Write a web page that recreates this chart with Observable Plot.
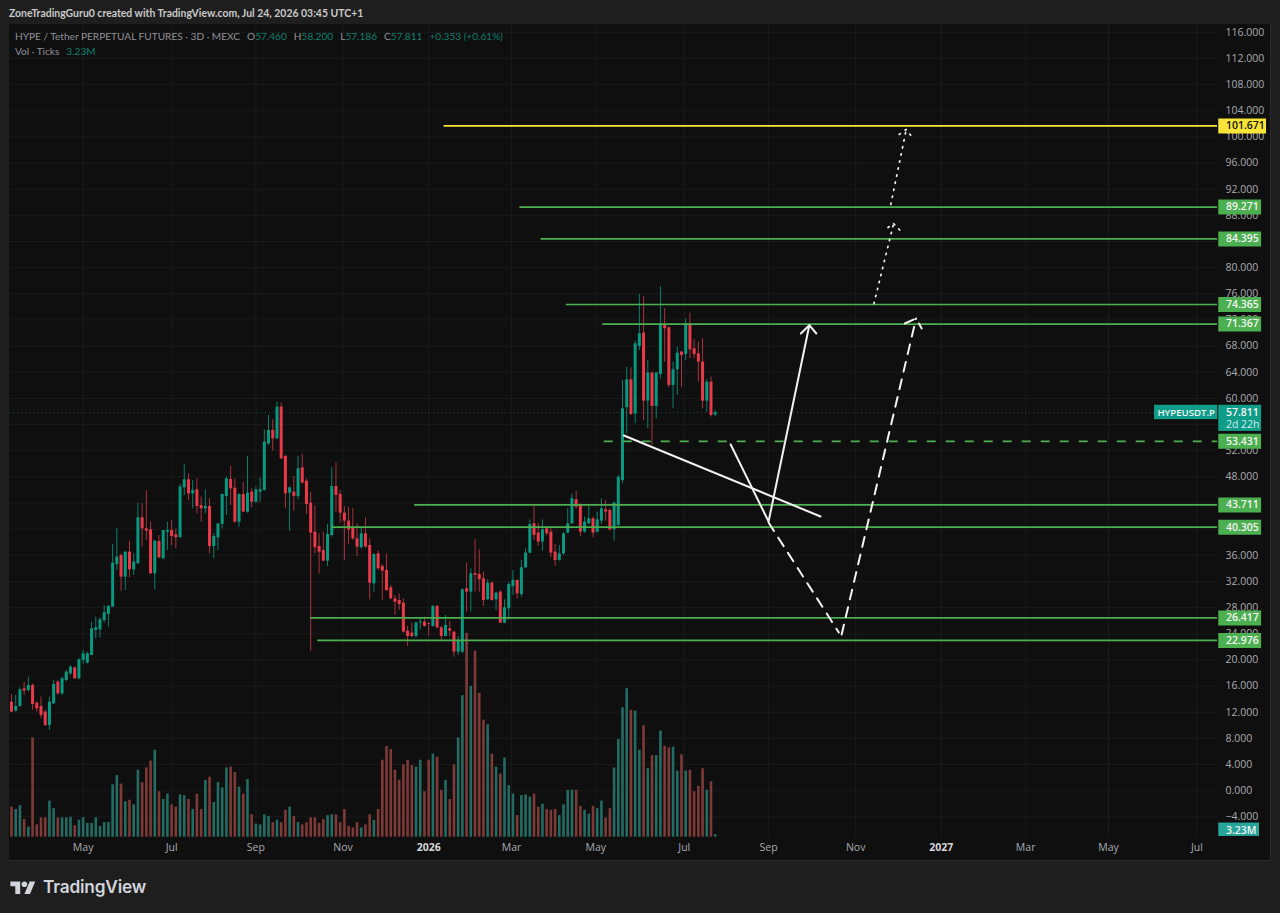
<!DOCTYPE html>
<html><head><meta charset="utf-8">
<script src="https://cdn.jsdelivr.net/npm/d3@7"></script>
<script src="https://cdn.jsdelivr.net/npm/@observablehq/plot@0.6"></script>
<style>
html,body{margin:0;padding:0;background:#1e1e1e;width:1280px;height:913px;overflow:hidden;font-family:Lato,"Open Sans",sans-serif}
#panel{position:absolute;left:9px;top:24px;width:1261px;height:836px;background:#0f0f0f;border-right:1px solid #2a2a2a;border-bottom:1px solid #2a2a2a}
#chart{position:absolute;left:0;top:0}
.t{position:absolute;white-space:pre;font-size:10.1px;line-height:14px}
#credit{left:9px;top:6px;color:#c9c9c9;font-weight:700;font-size:10.45px}
#legend1{left:15px;top:29px;color:#8f9299}
#legend2{left:15px;top:44px;color:#8f9299}
.g{color:#0f7f6d}
.v{margin-left:7px}
#logo{position:absolute;left:10px;top:876px;display:flex;align-items:center;gap:7px;color:#d1d4dc;font:600 17.3px "Inter","Open Sans",sans-serif;letter-spacing:-.2px}
</style></head><body>
<div id="panel"></div>
<div id="chart"></div>
<div class="t" id="credit">ZoneTradingGuru0 created with TradingView.com, Jul 24, 2026 03:45 UTC+1</div>
<div class="t" id="legend1">HYPE / Tether PERPETUAL FUTURES · 3D · MEXC<span class="v">O<span class="g">57.460</span></span><span class="v">H<span class="g">58.200</span></span><span class="v">L<span class="g">57.186</span></span><span class="v">C<span class="g">57.811</span></span><span class="v g">+0.353 (+0.61%)</span></div>
<div class="t" id="legend2">Vol · Ticks<span class="v g">3.23M</span></div>
<div id="logo"><svg width="26" height="14" viewBox="0 0 36 20"><path fill="#d1d4dc" d="M14 20H7V9H0V2h14v18ZM28 20h-8l7.5-18h8L28 20Z"/><circle cx="20" cy="6" r="4" fill="#d1d4dc"/></svg><span>TradingView</span></div>
<script>
const firstBar = "2025-03-10";
const opens = [13.54,12.17,12.88,15.58,15.33,16.09,13.39,12.88,12.01,9.98,
13.29,16.60,14.82,16.86,17.88,18.80,17.11,19.92,19.51,20.68,
24.50,24.61,26.03,26.95,28.07,34.60,35.98,32.66,36.49,33.78,
34.70,41.74,40.05,39.90,33.17,38.12,35.47,39.54,39.80,39.14,
38.68,46.32,47.55,45.41,46.02,43.62,43.11,43.47,37.35,38.68,
40.72,45.00,47.60,46.27,41.07,45.30,42.60,45.66,44.13,45.66,
45.92,53.05,55.09,53.82,58.66,51.12,45.51,45.66,45.00,49.38,
47.34,43.98,39.54,37.35,36.74,35.11,39.03,46.53,45.30,42.45,
41.23,40.21,38.52,37.15,39.29,37.50,31.64,36.23,34.29,33.68,
31.03,29.35,29.09,28.69,24.40,24.10,23.59,25.63,25.78,25.52,
25.12,28.17,24.91,23.59,24.76,24.25,21.19,21.19,30.88,30.37,
33.18,33.07,32.41,29.20,31.75,29.20,30.37,25.63,27.82,31.24,
32.16,30.01,34.09,36.34,40.82,39.40,38.02,40.06,39.55,36.49,
35.21,36.23,39.40,40.82,44.49,43.78,39.55,40.82,41.59,39.55,
41.23,42.96,42.86,39.90,40.57,47.45,58.57,62.85,57.65,67.95,
69.99,59.59,63.87,58.77,63.66,71.16,70.80,61.98,64.38,67.08,
66.72,71.41,67.59,66.82,65.55,59.59,62.49,57.46];
const highs = [14.72,14.56,15.74,16.60,17.37,16.35,13.54,14.31,12.27,14.31,
16.86,16.86,17.37,18.39,19.15,18.90,20.17,21.45,21.19,25.78,
26.54,26.44,28.33,28.33,37.66,40.05,36.23,36.49,38.17,36.23,
43.98,43.88,45.92,41.07,38.27,39.03,39.80,41.07,41.33,40.05,
46.83,49.89,48.47,47.45,47.70,44.90,46.02,44.64,39.29,40.82,
45.41,47.96,49.59,47.70,45.41,47.19,51.12,46.17,46.43,47.85,
55.19,57.39,56.72,59.43,59.27,51.27,46.43,48.06,51.12,51.42,
47.70,45.66,43.62,39.29,39.54,40.72,49.38,50.10,45.92,43.47,
43.37,43.11,40.82,40.21,41.74,38.52,36.23,36.64,34.60,36.23,
31.39,29.86,30.11,29.35,25.12,25.63,25.78,26.44,26.54,25.78,
28.33,28.33,25.12,26.80,25.93,24.40,23.59,30.88,34.81,33.94,
38.38,36.85,33.43,32.26,31.90,30.37,30.63,29.20,31.90,33.69,
32.26,35.21,36.99,41.43,43.63,40.82,41.43,40.31,40.06,37.66,
37.51,39.55,43.12,45.41,45.77,43.88,41.84,43.63,41.84,42.61,
44.65,44.39,43.12,44.14,48.20,62.75,64.79,64.68,68.76,75.90,
75.59,65.80,64.02,64.02,77.12,73.71,70.90,65.55,67.84,67.23,
72.18,73.04,68.97,68.61,69.12,62.85,63.26,58.20];
const lows = [12.01,12.01,12.78,14.56,15.07,12.27,12.01,10.99,9.82,9.21,
13.19,14.56,14.56,16.60,17.62,17.01,16.96,19.31,19.41,20.68,
23.23,23.38,25.63,25.01,28.07,33.68,30.52,30.62,32.56,32.92,
34.70,37.25,38.27,33.07,30.72,35.47,35.31,36.74,37.50,36.99,
38.68,45.15,44.39,43.11,42.35,41.07,42.35,36.23,35.47,36.74,
40.05,42.09,43.62,40.92,40.31,42.60,42.45,43.26,43.98,44.13,
45.81,52.80,51.93,53.66,50.61,43.11,39.70,42.76,44.49,46.94,
42.25,21.34,36.23,33.17,34.96,34.29,38.78,42.60,40.92,35.21,
37.66,38.27,35.82,36.99,37.15,29.19,30.37,33.68,29.09,30.52,
29.19,26.80,27.56,24.10,22.06,23.38,23.38,24.61,25.01,23.59,
25.01,24.76,23.08,23.48,23.59,20.43,20.68,20.94,27.31,27.31,
30.37,30.37,28.18,29.10,29.00,27.57,25.53,25.53,26.04,29.86,
29.35,29.61,33.94,36.23,38.27,37.36,36.64,39.04,35.62,34.30,
35.11,35.98,39.29,40.72,43.12,38.89,39.40,40.72,38.68,39.40,
40.72,41.23,39.70,38.17,40.40,46.94,54.59,57.39,56.12,67.33,
56.63,55.35,52.80,56.88,63.00,65.55,61.62,58.41,60.45,61.62,
65.80,66.06,66.06,62.49,58.41,57.90,57.14,57.186];
const closes = [12.01,12.88,15.43,15.23,16.09,13.19,12.52,11.50,9.98,13.54,
16.25,14.82,17.11,18.13,18.90,17.11,20.02,20.94,20.94,24.76,
24.91,26.14,27.21,28.18,34.80,35.72,32.66,36.49,33.78,34.96,
41.74,40.05,39.70,33.17,38.17,35.62,39.80,39.80,38.88,38.68,
46.43,47.55,45.41,45.92,43.47,43.11,43.47,37.35,38.88,40.82,
45.30,47.70,46.17,41.07,45.30,42.60,45.51,44.13,46.02,46.02,
53.31,55.09,53.82,58.66,50.76,45.41,46.32,45.00,49.23,47.04,
43.77,39.39,37.15,36.48,35.11,39.19,46.53,45.15,42.45,41.23,
39.90,38.52,37.25,39.29,37.25,31.74,36.13,33.94,33.58,30.62,
29.35,28.84,28.48,24.25,23.59,23.59,25.63,25.78,25.12,25.42,
28.17,24.91,23.59,25.27,24.40,21.19,22.97,30.72,30.37,33.18,
32.92,32.26,29.10,31.75,29.10,30.22,25.63,27.98,31.54,32.16,
30.12,34.09,36.34,40.72,39.04,38.02,39.90,39.29,36.34,35.21,
36.23,39.29,40.82,44.65,43.37,39.55,41.08,41.59,39.40,41.43,
43.12,42.61,39.90,43.98,47.90,58.41,62.85,57.55,68.35,69.88,
59.59,63.87,58.77,63.87,71.41,70.65,61.98,64.38,66.93,66.57,
71.41,67.44,66.72,65.55,59.59,62.49,57.39,57.811];
const volumesM = [39,36,41,23,13,129,16,25,25,47,
37,25,25,25,26,15,22,25,18,18,
25,14,19,19,68,80,69,46,48,42,
87,71,90,99,113,59,49,56,42,39,
55,54,49,36,56,36,74,78,45,71,
64,90,91,84,65,56,75,29,17,16,
29,27,19,22,19,35,39,27,19,16,
19,25,25,18,23,28,29,29,19,36,
14,12,19,12,16,29,22,36,100,118,
114,87,74,94,100,93,91,100,59,100,
108,104,61,74,49,94,129,184,265,196,
242,187,152,146,108,91,82,103,67,56,
28,54,55,52,56,39,43,36,35,36,
28,42,61,61,61,40,35,30,40,37,
47,25,37,90,127,168,193,165,164,113,
145,89,106,106,138,118,116,117,86,107,
86,87,59,66,89,61,72,3.23];

const gridValues = [116,112,108,104,100,96,92,88,84,80,76,72,68,64,60,56,52,48,44,40,36,32,28,24,20,16,12,8,4,0,-4];
const yTickLabels = [116,112,108,104,100,96,92,88,84,80,76,72,68,64,60,52,48,40,36,32,28,24,20,16,12,8,4,0,-4];
const monthTicks = ["2025-04-30","2025-07-02","2025-08-31","2025-11-01","2026-03-01","2026-04-30","2026-07-02","2026-08-31","2026-11-01","2027-03-02","2027-04-30","2027-07-02"];
const monthNames = ["May","Jul","Sep","Nov","Mar","May","Jul","Sep","Nov","Mar","May","Jul"];
const yearTicks = ["2026-01-01","2027-01-01"];

const levelValues = [101.671,89.271,84.395,74.365,71.367,43.711,40.305,26.417,22.976];
const levelStarts = ["2026-01-12","2026-03-07","2026-03-22","2026-04-09","2026-05-05","2025-12-22","2025-10-24","2025-10-09","2025-10-14"];
const dashedLevel = 53.431, dashedStart = "2026-05-06";
const lastPrice = 57.811;

const trendLine = [["2026-05-20",54.33],["2026-10-07",41.94]];
const firstLeg = [["2026-08-04",52.95],["2026-08-31",41.17],["2026-09-29",71.2]];
const firstHead = [["2026-09-23",69.93],["2026-09-29",71.2],["2026-10-04",69.93]];
const dashedDown = [["2026-08-31",41.02],["2026-10-20",24.2]];
const dashedUp = [["2026-10-22",23.9],["2026-12-14",72.22]];
const dashedHead = [["2026-12-06",71.46],["2026-12-14",72.22],["2026-12-18",70.7]];
const dottedOne = [["2026-11-14",74.5],["2026-11-28",86.75]];
const dottedOneHead = [["2026-11-24",86.14],["2026-11-28",86.75],["2026-12-04",85.38]];
const dottedTwo = [["2026-11-26",89.66],["2026-12-07",101.13]];
const dottedTwoHead = [["2026-12-02",100.37],["2026-12-07",101.13],["2026-12-12",99.76]];

const UP="#089981", DOWN="#e93a49", UPW="#0c7f6e", DOWNW="#a8343f", UPV="#236c63", DOWNV="#7d3a36";
const GREEN="#4caf50", YELLOW="#f9e537", TEAL="#0f9d8a", GRID="#1b1b1b", TXT="#a9abb0";
const d = s => new Date(s+"T00:00:00Z");
const start = d(firstBar);
const bars = opens.map((o,i)=>({date:new Date(+start+i*3*864e5),open:o,high:highs[i],low:lows[i],close:closes[i],vol:volumesM[i],up:closes[i]>=o}));
const domainX=[new Date(+start-1.42*864e5),new Date(+start+858.6*864e5)];
const rightEdge=domainX[1];
const dayAfter=n=>new Date(+start+n*864e5);
const volBase=-7.11, volUnit=0.11766;
const levels=levelValues.map((v,i)=>({v,start:d(levelStarts[i]),color:v>100?YELLOW:GREEN}));
const pts=a=>a.map(([x,y])=>({x:d(x),y}));
const ln=(a,o)=>Plot.line(pts(a),{x:"x",y:"y",stroke:"#f2f2f2",strokeWidth:2,...o});
const dash={strokeDasharray:"10,8"}, dot={strokeDasharray:"1.4,5.8",strokeLinecap:"round",strokeWidth:1.7};
const boxL=dayAfter(859.5), boxR=dayAfter(890), textX=dayAfter(864.6);
const tag=levels.map(l=>({...l,txt:l.v.toFixed(3),right:l.v>100?dayAfter(893.5):boxR}));
tag.push({v:dashedLevel,txt:dashedLevel.toFixed(3),color:GREEN,right:boxR});
const monthIdx=new Map(monthTicks.map((t,i)=>[+d(t),monthNames[i]]));

const chart=Plot.plot({
 width:1280,height:913,marginLeft:9,marginRight:63,marginTop:24,marginBottom:76,
 style:{background:"transparent",fontFamily:'"Open Sans",Lato,sans-serif',fontSize:"10.5px"},
 color:{type:"identity"},
 x:{type:"utc",domain:domainX,label:null},
 y:{type:"linear",domain:[-7.16,117.19],label:null},
 marks:[
  Plot.ruleY(gridValues,{stroke:GRID}),
  Plot.ruleX([...monthTicks,...yearTicks].map(d),{stroke:GRID}),
  Plot.axisY({anchor:"right",ticks:yTickLabels,tickSize:0,tickPadding:8,textAnchor:"start",label:null,fill:TXT,
     tickFormat:v=>v<0?"\u2212"+Math.abs(v).toFixed(3):v.toFixed(3)}),
  Plot.axisX({anchor:"bottom",ticks:monthTicks.map(d),tickSize:0,tickPadding:6,label:null,fill:TXT,tickFormat:t=>monthIdx.get(+t)}),
  Plot.axisX({anchor:"bottom",ticks:yearTicks.map(d),tickSize:0,tickPadding:6,label:null,fill:"#d5d6da",fontWeight:700,tickFormat:d3.utcFormat("%Y")}),
  Plot.ruleX(bars,{x:"date",y1:volBase,y2:b=>volBase+b.vol*volUnit,stroke:b=>b.up?UPV:DOWNV,strokeWidth:2.6}),
  Plot.ruleY([lastPrice],{x1:domainX[0],x2:dayAfter(813.8),stroke:"#17594f",strokeDasharray:"1,3"}),
  Plot.ruleX(bars,{x:"date",y1:"low",y2:"high",stroke:b=>b.up?UPW:DOWNW,strokeWidth:1}),
  Plot.ruleX(bars,{x:"date",y1:"open",y2:"close",stroke:b=>b.up?UP:DOWN,strokeWidth:3}),
  Plot.ruleY(levels,{y:"v",x1:"start",x2:()=>rightEdge,stroke:"color",strokeWidth:1.7}),
  Plot.ruleY([dashedLevel],{x1:d(dashedStart),x2:rightEdge,stroke:GREEN,strokeWidth:1.6,strokeDasharray:"9,10"}),
  ln(trendLine,{}),ln(firstLeg,{}),ln(firstHead,{}),
  ln(dashedDown,dash),ln(dashedUp,dash),ln(dashedHead,dash),
  ln(dottedOne,dot),ln(dottedOneHead,dot),ln(dottedTwo,dot),ln(dottedTwoHead,dot),
  // right-hand price tags
  Plot.ruleY(tag,{y:"v",x1:boxL,x2:"right",stroke:"color",strokeWidth:15}),
  Plot.text(tag,{x:textX,y:"v",text:"txt",textAnchor:"start",fill:t=>t.color===YELLOW?"#111":"#f4f4f4",fontWeight:600}),
  Plot.rect([1],{x1:boxL,x2:boxR,y1:54.95,y2:58.95,fill:TEAL}),
  Plot.text(["57.811"],{x:textX,y:57.811,text:t=>t,textAnchor:"start",fill:"#f4f4f4",fontWeight:600}),
  Plot.text(["2d 22h"],{x:textX,y:56.0,text:t=>t,textAnchor:"start",fill:"#d4efea"}),
  Plot.rect([1],{x1:dayAfter(813.8),x2:dayAfter(858.8),y1:56.75,y2:58.95,fill:TEAL}),
  Plot.text(["HYPEUSDT.P"],{x:dayAfter(836.3),y:57.811,text:t=>t,fill:"#f4f4f4",fontWeight:600,fontSize:9.6}),
  Plot.rect([1],{x1:boxL,x2:dayAfter(888.5),y1:-7.0,y2:-4.95,fill:"#26a69a"}),
  Plot.text(["3.23M"],{x:textX,y:-6.05,text:t=>t,textAnchor:"start",fill:"#f4f4f4",fontWeight:600})
 ]
});
document.getElementById("chart").append(chart);
</script></body></html>
